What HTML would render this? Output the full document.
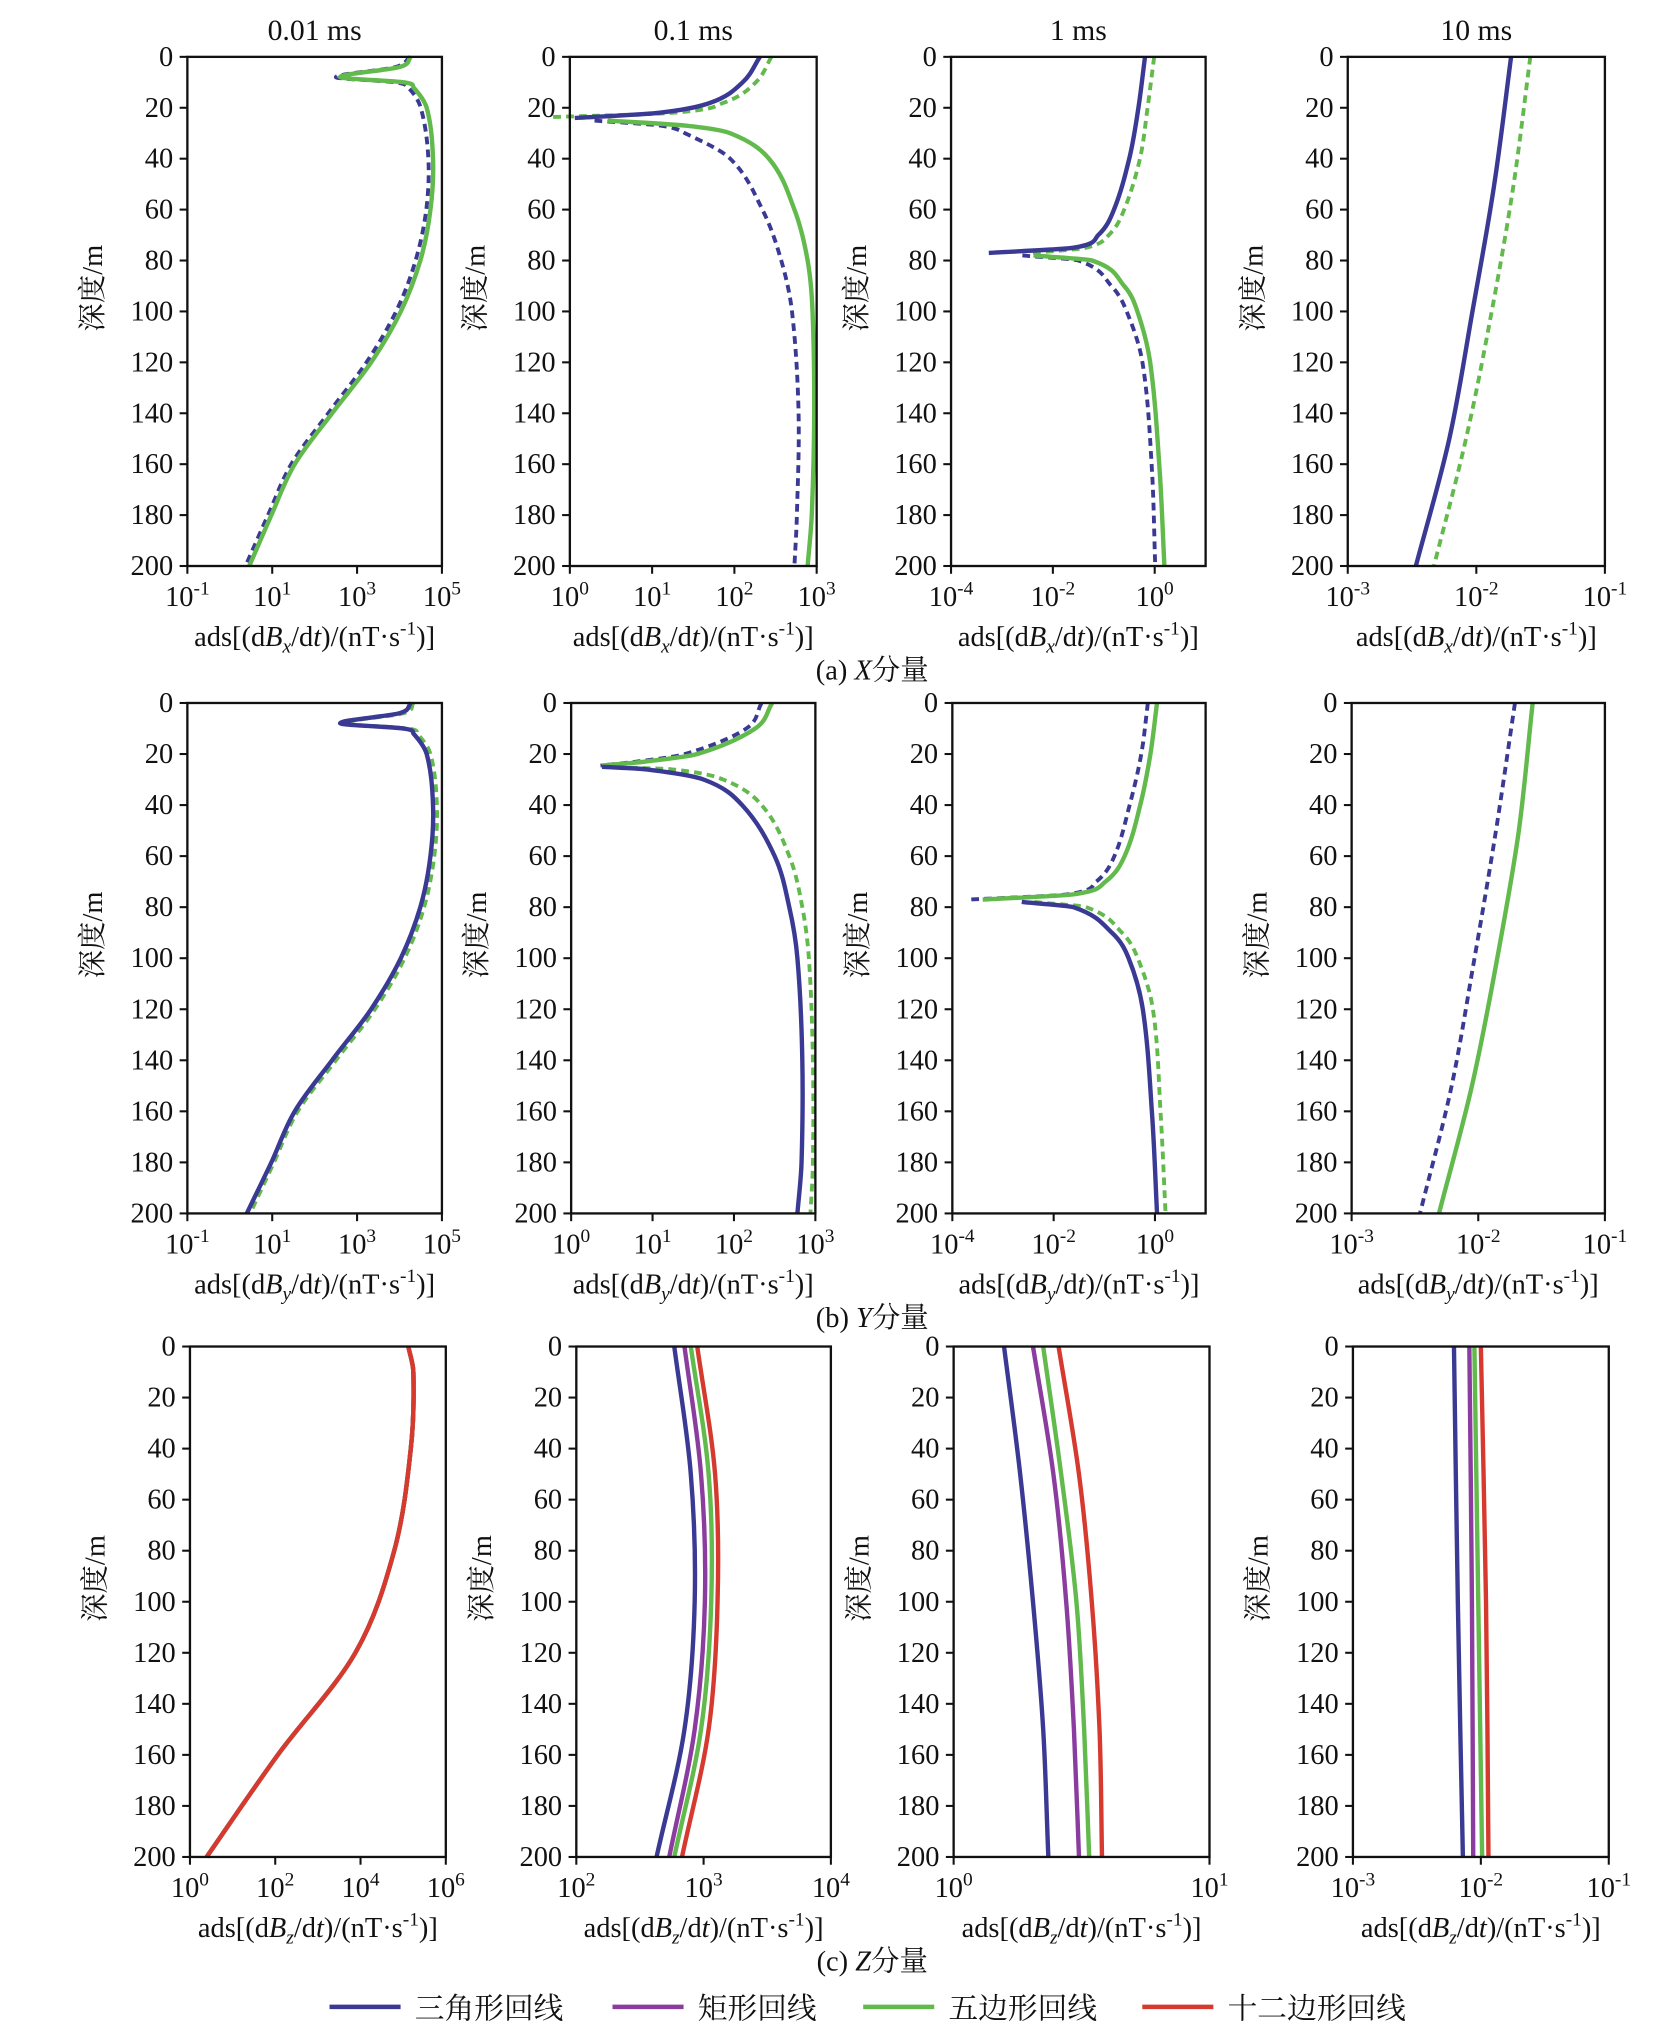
<!DOCTYPE html>
<html><head><meta charset="utf-8"><style>
html,body{margin:0;padding:0;background:#fff}
svg{display:block}
text{font-family:"Liberation Serif","Noto Serif CJK SC",serif;fill:#111}
</style></head><body>
<svg id="fig" width="1654" height="2034" viewBox="0 0 1280 1574" preserveAspectRatio="none" xmlns="http://www.w3.org/2000/svg"></svg>
<script>
// ---- data (values are log10 of |dB/dt|) ----
const depthA=[0,4,8,10,12,20,40,60,80,100,120,140,160,180,200];
const ax1Green=[4.27,4.0,2.6,4.1,4.33,4.64,4.79,4.73,4.49,4.03,3.33,2.41,1.53,0.98,0.46];
const ax1Blue=[4.25,3.9,2.5,3.9,4.2,4.5,4.68,4.63,4.38,3.92,3.22,2.32,1.45,0.9,0.37];
const ay1Blue=[4.27,4.0,2.6,4.1,4.33,4.64,4.79,4.73,4.49,4.03,3.33,2.41,1.53,0.98,0.40];
const ay1Green=[4.33,4.1,2.7,4.2,4.42,4.73,4.88,4.82,4.58,4.12,3.42,2.50,1.60,1.04,0.48];

const depthUp2=[0,10,18,22,24];
const depthLo2=[25,27,30,40,60,80,100,140,180,200];
const ax2BlueUp=[2.31,2.10,1.71,1.08,0.06];
const ax2GreenUp=[2.45,2.26,1.87,1.24,-0.6];
const ax2GreenLo=[0.46,1.40,1.95,2.42,2.73,2.89,2.95,2.97,2.94,2.89];
const ax2BlueLo=[0.30,1.10,1.40,1.95,2.34,2.57,2.70,2.78,2.76,2.73];
const depthUp2y=[0,10,20,23,24.5];
const depthLo2y=[25,26,30,40,60,80,100,140,180,200];
const ay2GreenUp=[2.47,2.26,1.55,0.9,0.38];
const ay2BlueUp=[2.34,2.15,1.40,0.8,0.36];
const ay2BlueLo=[0.38,0.93,1.63,2.10,2.50,2.68,2.78,2.84,2.83,2.78];
const ay2GreenLo=[0.40,1.24,1.87,2.34,2.68,2.84,2.92,2.97,2.97,2.94];

const depthUp3=[0,20,40,60,70,75,77];
const depthLo3=[78,80,90,100,120,160,200];
const ax3BlueUp=[-0.19,-0.32,-0.50,-0.80,-1.11,-1.61,-3.26];
const ax3GreenUp=[-0.01,-0.14,-0.29,-0.60,-0.90,-1.36,-2.40];
const ax3GreenLo=[-2.38,-1.23,-0.60,-0.34,-0.09,0.09,0.19];
const ax3BlueLo=[-2.60,-1.50,-0.85,-0.55,-0.24,-0.06,0.01];
const ay3GreenUp=[0.04,-0.09,-0.29,-0.60,-0.98,-1.61,-3.40];
const ay3BlueUp=[-0.14,-0.27,-0.50,-0.80,-1.16,-1.74,-3.64];
const ay3BlueLo=[-2.63,-1.61,-0.85,-0.52,-0.24,-0.06,0.04];
const ay3GreenLo=[-2.38,-1.36,-0.65,-0.34,-0.04,0.11,0.21];

const depthB=[0,50,100,150,200];
const ax4Blue=[-1.73,-1.86,-2.03,-2.21,-2.47];
const ax4Green=[-1.58,-1.71,-1.88,-2.08,-2.33];
const ay4Blue=[-1.71,-1.86,-2.03,-2.21,-2.46];
const ay4Green=[-1.57,-1.68,-1.85,-2.05,-2.31];

const depthZ1=[0,10,40,80,120,160,200];
const az1All=[5.12,5.24,5.18,4.79,3.88,2.06,0.39];
const az2Blue=[2.77,2.90,2.93,2.85,2.63];
const az2Purple=[2.85,2.98,3.01,2.93,2.73];
const az2Green=[2.90,3.04,3.06,2.98,2.77];
const az2Red=[2.95,3.09,3.11,3.04,2.83];
const az3Blue=[0.197,0.26,0.31,0.35,0.37];
const az3Purple=[0.31,0.39,0.44,0.47,0.49];
const az3Green=[0.35,0.42,0.48,0.51,0.53];
const az3Red=[0.41,0.49,0.54,0.57,0.58];
const depthZ4=[0,100,200];
const az4Blue=[-2.21,-2.18,-2.14];
const az4Purple=[-2.09,-2.07,-2.06];
const az4Green=[-2.05,-2.02,-1.99];
const az4Red=[-2.00,-1.96,-1.94];

const yTicks=[0,20,40,60,80,100,120,140,160,180,200];
const colTitles=['0.01 ms','0.1 ms','1 ms','10 ms'];
const xTicksCol1=[-1,1,3,5], xTicksCol2=[0,1,2,3], xTicksCol3=[-4,-2,0], xTicksCol4=[-3,-2,-1];
const xTicksZ1=[0,2,4,6], xTicksZ2=[2,3,4], xTicksZ3=[0,1];
const legendLabels=['三角形回线','矩形回线','五边形回线','十二边形回线'];

const BLUE='#3a3a94', PURPLE='#8b3c9f', GREEN='#62b94c', RED='#d63a2f';
const NS='http://www.w3.org/2000/svg';
const svg=document.getElementById('fig');
function el(tag,attrs,parent){const e=document.createElementNS(NS,tag);for(const k in attrs)e.setAttribute(k,attrs[k]);(parent||svg).appendChild(e);return e;}

// Hermite spline of x as a function of depth (non-uniform aware)
function smoothPath(ds,vs,xs,ys){
  const n=ds.length;
  const m=[];
  for(let i=0;i<n;i++){
    if(i===0)m.push((vs[1]-vs[0])/(ds[1]-ds[0]));
    else if(i===n-1)m.push((vs[n-1]-vs[n-2])/(ds[n-1]-ds[n-2]));
    else m.push((vs[i+1]-vs[i-1])/(ds[i+1]-ds[i-1]));
  }
  let d='M'+xs(vs[0]).toFixed(1)+','+ys(ds[0]).toFixed(1);
  for(let i=0;i<n-1;i++){
    const h=ds[i+1]-ds[i];
    const c1v=vs[i]+m[i]*h/3, c1d=ds[i]+h/3;
    const c2v=vs[i+1]-m[i+1]*h/3, c2d=ds[i+1]-h/3;
    d+='C'+xs(c1v).toFixed(1)+','+ys(c1d).toFixed(1)+' '+xs(c2v).toFixed(1)+','+ys(c2d).toFixed(1)+' '+xs(vs[i+1]).toFixed(1)+','+ys(ds[i+1]).toFixed(1);
  }
  return d;
}
let clipId=0;
const rows=[
 {top:44,bot:438,cap:['(a) ','X','分量'],sub:'x',
  panels:[
   {l:145,r:342,x0:-1,x1:5,ticks:xTicksCol1,series:[[depthA,ax1Blue,BLUE,true],[depthA,ax1Green,GREEN,false]]},
   {l:441,r:632,x0:0,x1:3,ticks:xTicksCol2,series:[[depthUp2,ax2GreenUp,GREEN,true],[depthUp2,ax2BlueUp,BLUE,false],[depthLo2,ax2BlueLo,BLUE,true],[depthLo2,ax2GreenLo,GREEN,false]]},
   {l:736,r:933,x0:-4,x1:1,ticks:xTicksCol3,series:[[depthUp3,ax3GreenUp,GREEN,true],[depthUp3,ax3BlueUp,BLUE,false],[depthLo3,ax3BlueLo,BLUE,true],[depthLo3,ax3GreenLo,GREEN,false]]},
   {l:1043,r:1242,x0:-3,x1:-1,ticks:xTicksCol4,series:[[depthB,ax4Blue,BLUE,false],[depthB,ax4Green,GREEN,true]]}]},
 {top:544,bot:939,cap:['(b) ','Y','分量'],sub:'y',
  panels:[
   {l:145,r:342,x0:-1,x1:5,ticks:xTicksCol1,series:[[depthA,ay1Green,GREEN,true],[depthA,ay1Blue,BLUE,false]]},
   {l:442,r:631,x0:0,x1:3,ticks:xTicksCol2,series:[[depthUp2y,ay2BlueUp,BLUE,true],[depthUp2y,ay2GreenUp,GREEN,false],[depthLo2y,ay2GreenLo,GREEN,true],[depthLo2y,ay2BlueLo,BLUE,false]]},
   {l:737,r:933,x0:-4,x1:1,ticks:xTicksCol3,series:[[depthUp3,ay3BlueUp,BLUE,true],[depthUp3,ay3GreenUp,GREEN,false],[depthLo3,ay3GreenLo,GREEN,true],[depthLo3,ay3BlueLo,BLUE,false]]},
   {l:1046,r:1242,x0:-3,x1:-1,ticks:xTicksCol4,series:[[depthB,ay4Blue,BLUE,true],[depthB,ay4Green,GREEN,false]]}]},
 {top:1042,bot:1437,cap:['(c) ','Z','分量'],sub:'z',
  panels:[
   {l:147,r:345,x0:0,x1:6,ticks:xTicksZ1,series:[[depthZ1,az1All,BLUE,false],[depthZ1,az1All,PURPLE,false],[depthZ1,az1All,GREEN,false],[depthZ1,az1All,RED,false]]},
   {l:446,r:643,x0:2,x1:4,ticks:xTicksZ2,series:[[depthB,az2Blue,BLUE,false],[depthB,az2Purple,PURPLE,false],[depthB,az2Green,GREEN,false],[depthB,az2Red,RED,false]]},
   {l:738,r:936,x0:0,x1:1,ticks:xTicksZ3,series:[[depthB,az3Blue,BLUE,false],[depthB,az3Purple,PURPLE,false],[depthB,az3Green,GREEN,false],[depthB,az3Red,RED,false]]},
   {l:1047,r:1245,x0:-3,x1:-1,ticks:xTicksCol4,series:[[depthZ4,az4Blue,BLUE,false],[depthZ4,az4Purple,PURPLE,false],[depthZ4,az4Green,GREEN,false],[depthZ4,az4Red,RED,false]]}]}
];

rows.forEach((row,ri)=>{
  row.panels.forEach((p,ci)=>{
    const g=el('g',{});
    
    
    const xs=v=>p.l+(v-p.x0)/(p.x1-p.x0)*(p.r-p.l);
    const ys=d=>row.top+d/200*(row.bot-row.top);
    if(ri===0){
      const t=el('text',{x:(p.l+p.r)/2,y:31,'text-anchor':'middle','font-size':23},g);
      t.textContent=colTitles[ci];
      
      
    }
    const cid='c'+(clipId++);
    const cp=el('clipPath',{id:cid},g);
    el('rect',{x:p.l-14,y:row.top-2,width:p.r-p.l+14,height:row.bot-row.top+4},cp);
    const sg=el('g',{'clip-path':'url(#'+cid+')'},g);
    p.series.forEach(s=>{
      const path=el('path',{d:smoothPath(s[0],s[1],xs,ys),fill:'none',stroke:s[2],'stroke-width':s[3]?3:3.4,'stroke-dasharray':s[3]?'6,4':'none','stroke-linecap':'butt'},sg);
      
      
    });
    const fr=el('rect',{x:p.l,y:row.top,width:p.r-p.l,height:row.bot-row.top,fill:'none',stroke:'#111','stroke-width':1.8},g);
    
    
    yTicks.forEach(v=>{
      const y=ys(v);
      el('line',{x1:p.l-6,x2:p.l,y1:y,y2:y,stroke:'#111','stroke-width':1.6},g);
      const t=el('text',{x:p.l-11,y:y+7,'text-anchor':'end','font-size':22},g);
      t.textContent=v;
      
      
    });
    p.ticks.forEach(e=>{
      const x=xs(e);
      el('line',{x1:x,x2:x,y1:row.bot,y2:row.bot+6,stroke:'#111','stroke-width':1.6},g);
      const t=el('text',{x:x,y:row.bot+31,'text-anchor':'middle','font-size':22},g);
      
      
      t.appendChild(document.createTextNode('10'));
      const sp=el('tspan',{'font-size':15,dy:-9},t); sp.textContent=String(e);
    });
    const yl=el('text',{x:0,y:0,'text-anchor':'middle','font-size':22,transform:'translate('+(p.l-66)+','+((row.top+row.bot)/2-18)+') rotate(-90)'},g);
    yl.textContent='深度/m';
    
    
    const xl=el('text',{x:(p.l+p.r)/2,y:row.bot+62,'text-anchor':'middle','font-size':22},g);
    
    
    xl.innerHTML='ads[(d<tspan font-style="italic">B</tspan><tspan font-style="italic" font-size="15" dy="5">'+row.sub+'</tspan><tspan dy="-5">/d</tspan><tspan font-style="italic">t</tspan>)/(nT·s<tspan font-size="15" dy="-9">-1</tspan><tspan dy="9">)]</tspan>';
  });
  const cap=el('text',{x:675,y:row.bot+88,'text-anchor':'middle','font-size':22});
  
  
  cap.innerHTML=row.cap[0]+'<tspan font-style="italic">'+row.cap[1]+'</tspan>'+row.cap[2];
});

// legend
const legX=[255,474,668,884], legColors=[BLUE,PURPLE,GREEN,RED];
legendLabels.forEach((lab,i)=>{
  const g=el('g',{});
  
  
  el('line',{x1:legX[i],x2:legX[i]+55,y1:1553,y2:1553,stroke:legColors[i],'stroke-width':3.5},g);
  const t=el('text',{x:legX[i]+66,y:1562,'font-size':23},g);
  t.textContent=lab;
});
</script>
</body></html>
